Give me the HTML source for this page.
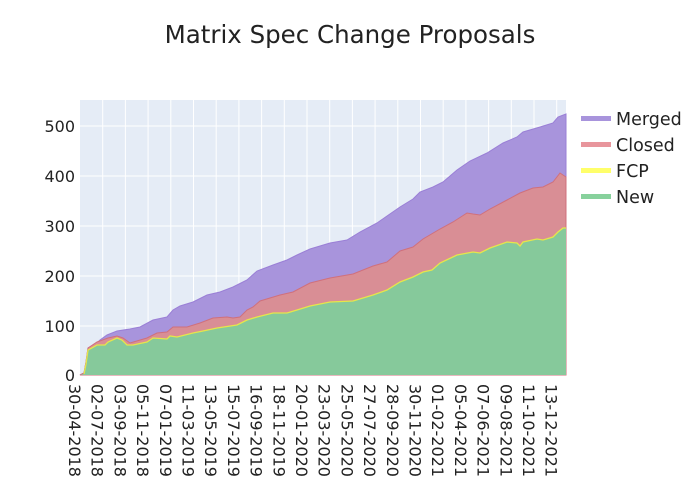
<!DOCTYPE html>
<html><head><meta charset="utf-8"><style>body{margin:0;background:#fff}svg{display:block}text{font-family:"DejaVu Sans","Liberation Sans",sans-serif;fill:#222}</style></head><body>
<svg width="700" height="500" viewBox="0 0 700 500">
<rect x="80" y="100" width="486" height="275" fill="#e5ecf6"/>
<g stroke="#fff" stroke-width="1">
<line x1="80" x2="566" y1="326" y2="326"/><line x1="80" x2="566" y1="276" y2="276"/><line x1="80" x2="566" y1="226" y2="226"/><line x1="80" x2="566" y1="176" y2="176"/><line x1="80" x2="566" y1="126" y2="126"/>
<line x1="102.7" x2="102.7" y1="100" y2="375"/><line x1="125.4" x2="125.4" y1="100" y2="375"/><line x1="148.1" x2="148.1" y1="100" y2="375"/><line x1="170.8" x2="170.8" y1="100" y2="375"/><line x1="193.5" x2="193.5" y1="100" y2="375"/><line x1="216.2" x2="216.2" y1="100" y2="375"/><line x1="238.9" x2="238.9" y1="100" y2="375"/><line x1="261.6" x2="261.6" y1="100" y2="375"/><line x1="284.3" x2="284.3" y1="100" y2="375"/><line x1="307" x2="307" y1="100" y2="375"/><line x1="329.7" x2="329.7" y1="100" y2="375"/><line x1="352.4" x2="352.4" y1="100" y2="375"/><line x1="375.1" x2="375.1" y1="100" y2="375"/><line x1="397.8" x2="397.8" y1="100" y2="375"/><line x1="420.5" x2="420.5" y1="100" y2="375"/><line x1="443.2" x2="443.2" y1="100" y2="375"/><line x1="465.9" x2="465.9" y1="100" y2="375"/><line x1="488.6" x2="488.6" y1="100" y2="375"/><line x1="511.3" x2="511.3" y1="100" y2="375"/><line x1="534" x2="534" y1="100" y2="375"/><line x1="556.7" x2="556.7" y1="100" y2="375"/>
</g>
<polygon fill="#a894dc" stroke="#9a7fd6" stroke-width="1" points="80,375 84,373 86,362 88,348 97,343 100,340 107,335 117,331 130,329 140,327 153,320 167,317 173,310 180,306 193,302 207,295 220,292 233,287 247,280 257,271 273,265 287,260 297,255 310,249 330,243 347,240 360,232 377,223 387,216 400,207 413,199 420,192 433,187 443,182 457,170 470,161 487,153 503,143 517,137 523,132 540,127 553,123 558,117 566,114 566,375"/>
<polygon fill="#d98e95" stroke="#d0707c" stroke-width="1" points="80,375 84,373 86,362 88,348 97,342 108,338 117,336 123,338 130,343 147,338 157,333 167,332 173,327 187,327 200,323 213,318 227,317 233,318 240,317 247,310 253,307 260,301 280,295 293,292 310,283 330,278 353,274 373,266 387,262 400,251 413,247 423,239 440,229 453,222 467,213 473,214 480,215 490,209 507,200 520,193 533,188 543,187 553,182 560,173 566,177 566,375"/>
<polygon fill="#86c99b" points="80,375 84,374 86,364 88,350 97,345 105,345 108,342 117,338 122,340 127,345 133,345 147,342 153,338 167,339 170,336 177,337 193,333 203,331 217,328 237,325 247,320 257,317 273,313 287,313 297,310 310,306 330,302 353,301 373,295 387,290 400,282 413,277 423,272 432,270 440,263 457,255 473,252 480,253 490,248 507,242 517,243 520,246 523,242 537,239 543,240 553,237 558,232 563,228 566,228 566,375"/>
<polyline fill="none" stroke="#e6e64a" stroke-width="1.3" points="84,374 86,364 88,350 97,345 105,345 108,342 117,338 122,340 127,345 133,345 147,342 153,338 167,339 170,336 177,337 193,333 203,331 217,328 237,325 247,320 257,317 273,313 287,313 297,310 310,306 330,302 353,301 373,295 387,290 400,282 413,277 423,272 432,270 440,263 457,255 473,252 480,253 490,248 507,242 517,243 520,246 523,242 537,239 543,240 553,237 558,232 563,228 566,228"/>
<text x="350" y="43" font-size="24.5" text-anchor="middle">Matrix Spec Change Proposals</text>
<g font-size="16" text-anchor="end">
<text x="75" y="381">0</text><text x="75" y="332">100</text><text x="75" y="282">200</text><text x="75" y="232">300</text><text x="75" y="182">400</text><text x="75" y="132">500</text>
</g>
<g font-size="16">
<text transform="translate(69,384) rotate(90)">30-04-2018</text>
<text transform="translate(91.7,384) rotate(90)">02-07-2018</text>
<text transform="translate(114.4,384) rotate(90)">03-09-2018</text>
<text transform="translate(137.1,384) rotate(90)">05-11-2018</text>
<text transform="translate(159.8,384) rotate(90)">07-01-2019</text>
<text transform="translate(182.5,384) rotate(90)">11-03-2019</text>
<text transform="translate(205.2,384) rotate(90)">13-05-2019</text>
<text transform="translate(227.9,384) rotate(90)">15-07-2019</text>
<text transform="translate(250.6,384) rotate(90)">16-09-2019</text>
<text transform="translate(273.3,384) rotate(90)">18-11-2019</text>
<text transform="translate(296,384) rotate(90)">20-01-2020</text>
<text transform="translate(318.7,384) rotate(90)">23-03-2020</text>
<text transform="translate(341.4,384) rotate(90)">25-05-2020</text>
<text transform="translate(364.1,384) rotate(90)">27-07-2020</text>
<text transform="translate(386.8,384) rotate(90)">28-09-2020</text>
<text transform="translate(409.5,384) rotate(90)">30-11-2020</text>
<text transform="translate(432.2,384) rotate(90)">01-02-2021</text>
<text transform="translate(454.9,384) rotate(90)">05-04-2021</text>
<text transform="translate(477.6,384) rotate(90)">07-06-2021</text>
<text transform="translate(500.3,384) rotate(90)">09-08-2021</text>
<text transform="translate(523,384) rotate(90)">11-10-2021</text>
<text transform="translate(545.7,384) rotate(90)">13-12-2021</text>
</g>
<g font-size="17.5">
<rect x="581" y="116" width="30" height="5" fill="#a894dc"/><text x="616" y="125">Merged</text>
<rect x="581" y="142" width="30" height="5" fill="#e8959c"/><text x="616" y="151">Closed</text>
<rect x="581" y="168" width="30" height="5" fill="#ffff6a"/><text x="616" y="177">FCP</text>
<rect x="581" y="194" width="30" height="5" fill="#87d19c"/><text x="616" y="203">New</text>
</g>
</svg>
</body></html>
